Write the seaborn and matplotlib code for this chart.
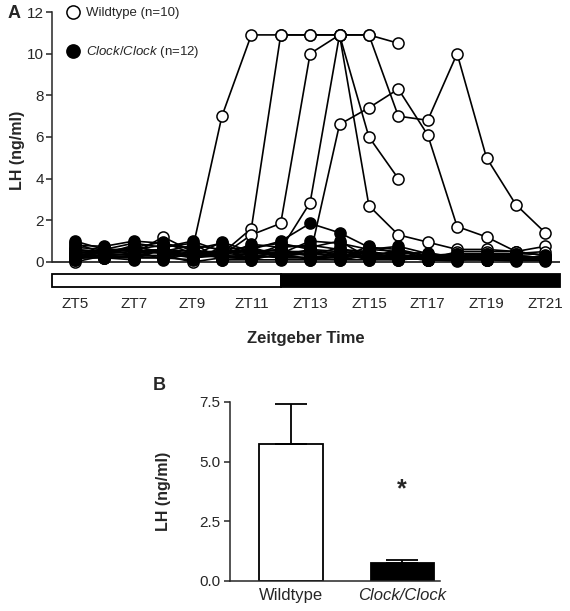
import numpy as np
import pandas as pd
import matplotlib
matplotlib.use("Agg")
import matplotlib.pyplot as plt
from matplotlib.lines import Line2D
from matplotlib.patches import Rectangle
import seaborn as sns

# data
zt_hours = list(range(5, 22))
zt_ticks = [5, 7, 9, 11, 13, 15, 17, 19, 21]
zt_labels = ["ZT%d" % h for h in zt_ticks]
lights_off = 12
nan = np.nan

# LH (ng/ml) per animal, ZT5 ... ZT21
wt_lh = [
    [0.3, 0.5, 0.6, 0.4, 0.6, 7.0, 10.9, 10.9, 10.9, 10.9, 10.9, 10.5, nan, nan, nan, nan, nan],
    [0.2, 0.3, 0.4, 0.5, 0.3, 0.4, 1.6, 10.9, 10.9, 10.9, 10.9, 7.0, 6.8, 10.0, 5.0, 2.75, 1.4],
    [0.5, 0.4, 0.3, 0.3, 0.4, 0.3, 1.3, 1.85, 10.0, 10.9, 6.0, 4.0, nan, nan, nan, nan, nan],
    [0.4, 0.6, 0.5, 0.6, 0.5, 0.5, 0.5, 0.6, 2.85, 10.9, 2.7, 1.3, 0.95, 0.6, 0.6, 0.5, 0.3],
    [0.6, 0.4, 0.7, 0.5, 0.2, 0.3, 0.4, 0.5, 0.3, 6.6, 7.4, 8.3, 6.1, 1.7, 1.2, 0.5, 0.75],
    [0.0, 0.3, 0.4, 1.2, 0.5, 0.4, 0.6, 0.3, 0.4, 0.5, 0.4, 0.4, 0.1, 0.5, 0.5, 0.5, 0.3],
    [0.2, 0.2, 0.3, 0.3, 0.0, 0.2, 0.3, 0.2, 0.2, 0.2, 0.3, 0.2, 0.2, 0.2, 0.3, 0.1, 0.2],
    [0.4, 0.5, 0.6, 0.4, 0.3, 0.5, 0.4, 0.4, 0.5, 0.4, 0.3, 0.3, 0.3, 0.4, 0.4, 0.4, 0.5],
    [0.3, 0.2, 0.2, 0.2, 0.4, 0.2, 0.2, 0.3, 0.6, 0.3, 0.2, 0.2, 0.1, 0.2, 0.2, 0.2, 0.1],
    [0.1, 0.4, 0.5, 0.6, 0.3, 0.3, 0.2, 0.5, 0.3, 0.2, 0.6, 0.5, 0.2, 0.1, 0.1, 0.3, 0.2],
]
clock_lh = [
    [1.0, 0.6, 0.9, 0.7, 1.0, 0.5, 0.6, 1.0, 1.85, 1.4, 0.7, 0.6, 0.3, 0.3, 0.2, 0.2, 0.1],
    [0.8, 0.75, 1.0, 0.9, 0.6, 0.9, 0.3, 0.4, 1.0, 0.9, 0.6, 0.75, 0.4, 0.2, 0.4, 0.3, 0.2],
    [0.6, 0.5, 0.7, 0.95, 0.4, 0.3, 0.85, 0.7, 0.8, 0.6, 0.5, 0.3, 0.2, 0.4, 0.3, 0.1, 0.3],
    [0.5, 0.4, 0.5, 0.5, 0.8, 0.6, 0.7, 0.9, 0.6, 0.5, 0.4, 0.2, 0.1, 0.1, 0.2, 0.4, 0.35],
    [0.3, 0.3, 0.4, 0.6, 0.3, 0.95, 0.5, 0.3, 0.4, 0.3, 0.3, 0.5, 0.3, 0.2, 0.1, 0.2, 0.2],
    [0.2, 0.7, 0.3, 0.3, 0.5, 0.2, 0.4, 0.6, 0.3, 0.7, 0.2, 0.1, 0.2, 0.3, 0.3, 0.3, 0.1],
    [0.7, 0.6, 0.6, 0.8, 0.7, 0.1, 0.2, 0.5, 0.5, 0.2, 0.75, 0.4, 0.45, 0.2, 0.2, 0.1, 0.2],
    [0.9, 0.4, 0.8, 0.4, 0.2, 0.4, 0.6, 0.2, 0.2, 0.4, 0.1, 0.2, 0.1, 0.3, 0.1, 0.2, 0.1],
    [0.4, 0.3, 0.2, 0.2, 0.1, 0.7, 0.1, 0.1, 0.1, 0.1, 0.3, 0.1, 0.2, 0.1, 0.2, 0.1, 0.05],
    [0.2, 0.2, 0.3, 0.5, 0.3, 0.5, 0.3, 0.8, 0.7, 1.0, 0.2, 0.6, 0.1, 0.1, 0.1, 0.3, 0.2],
    [0.1, 0.5, 0.6, 0.1, 0.4, 0.3, 0.7, 0.3, 0.2, 0.1, 0.1, 0.1, 0.3, 0.2, 0.1, 0.05, 0.1],
    [0.3, 0.2, 0.1, 0.7, 0.9, 0.1, 0.1, 0.4, 0.1, 0.3, 0.5, 0.3, 0.1, 0.05, 0.3, 0.2, 0.15],
]

# panel B
groups = ["Wildtype", "Clock/Clock"]
mean_lh = [5.75, 0.75]
sem_lh = [1.67, 0.13]


def to_long(rows, geno):
    recs = []
    for i, row in enumerate(rows):
        for h, v in zip(zt_hours, row):
            recs.append((geno, "%s_%d" % (geno, i), h, v))
    return pd.DataFrame(recs, columns=["genotype", "animal", "zt", "lh"]).dropna()


df_wt = to_long(wt_lh, "wt")
df_clock = to_long(clock_lh, "clock")

sns.set_style("ticks")
plt.rcParams["font.family"] = ["Liberation Sans", "DejaVu Sans"]
plt.rcParams["mathtext.fontset"] = "custom"
plt.rcParams["mathtext.rm"] = "Liberation Sans"
plt.rcParams["mathtext.it"] = "Liberation Sans:italic"

fig = plt.figure(figsize=(5.7, 6.11), dpi=100)

# ---- panel A
ax = fig.add_axes([52 / 570, 1 - 289 / 611, 508 / 570, 277 / 611])
xmin, xmax = 4.22, 21.5
line_kw = dict(units="animal", estimator=None, color="black", linewidth=1.2,
               marker="o", markersize=8, markeredgecolor="black",
               markeredgewidth=1.1, ax=ax)
sns.lineplot(data=df_wt, x="zt", y="lh", markerfacecolor="white", **line_kw)
sns.lineplot(data=df_clock, x="zt", y="lh", markerfacecolor="black", **line_kw)

ax.axhline(0, color="black", lw=1.1, zorder=0)
ax.add_patch(Rectangle((xmin, -1.2), lights_off - xmin, 0.62, facecolor="white",
                       edgecolor="black", lw=1.3, clip_on=False))
ax.add_patch(Rectangle((lights_off, -1.2), xmax - lights_off, 0.62, facecolor="black",
                       edgecolor="black", lw=1.3, clip_on=False))
ax.set_xlim(xmin, xmax)
ax.set_ylim(-1.3, 12)
ax.set_yticks(range(0, 13, 2))
ax.set_xticks(zt_ticks, zt_labels)
for s in ["top", "right", "bottom"]:
    ax.spines[s].set_visible(False)
ax.spines["left"].set_bounds(0, 12)
ax.spines["left"].set_linewidth(1.1)
ax.tick_params(axis="y", length=4, width=1.1, labelsize=11, pad=2)
ax.tick_params(axis="x", length=0, labelsize=11, pad=6)
ax.set_xlabel("Zeitgeber Time", fontsize=12, fontweight="bold", labelpad=14)
ax.set_ylabel("LH (ng/ml)", fontsize=11.5, fontweight="bold", labelpad=1)

handles = [
    Line2D([], [], ls="none", marker="o", markersize=9.5, markerfacecolor="white",
           markeredgecolor="black", markeredgewidth=1.1),
    Line2D([], [], ls="none", marker="o", markersize=9.5, markerfacecolor="black",
           markeredgecolor="black", markeredgewidth=1.1),
]
fig.legend(handles, ["Wildtype (n=10)", r"$\mathit{Clock/Clock}$ (n=12)"],
           loc="upper left", bbox_to_anchor=(66 / 570, 1 - 7 / 611), frameon=False,
           fontsize=9.5, handlelength=1.0, handletextpad=0.5, labelspacing=1.9,
           borderpad=0, borderaxespad=0)

# ---- panel B
ax2 = fig.add_axes([230 / 570, 1 - 581 / 611, 210 / 570, 179 / 611])
sns.barplot(x=groups, y=mean_lh, hue=groups, palette=["white", "black"],
            edgecolor="black", linewidth=1.3, width=0.57, legend=False, ax=ax2)
ax2.errorbar(x=[0, 1], y=mean_lh, yerr=[[0, 0], sem_lh], fmt="none", ecolor="black",
             elinewidth=1.3, capsize=11.5, capthick=1.3)
ax2.text(1, 3.85, "*", ha="center", va="center", fontsize=18, fontweight="bold")
ax2.set_xlim(-0.55, 1.34)
ax2.set_ylim(0, 7.5)
ax2.set_yticks([0, 2.5, 5.0, 7.5])
ax2.set_yticklabels(["0.0", "2.5", "5.0", "7.5"])
sns.despine(ax=ax2)
ax2.spines["left"].set_linewidth(1.1)
ax2.spines["bottom"].set_linewidth(1.1)
ax2.tick_params(axis="y", length=4, width=1.1, labelsize=11, pad=3)
ax2.tick_params(axis="x", length=0, labelsize=12, pad=5)
ax2.get_xticklabels()[1].set_fontstyle("italic")
ax2.set_ylabel("LH (ng/ml)", fontsize=11.5, fontweight="bold", labelpad=20)

fig.text(8 / 570, 1 - 13 / 611, "A", fontsize=13, fontweight="bold", ha="left", va="center")
fig.text(153 / 570, 1 - 385 / 611, "B", fontsize=13, fontweight="bold", ha="left", va="center")

fig.savefig("out.png", dpi=100)
